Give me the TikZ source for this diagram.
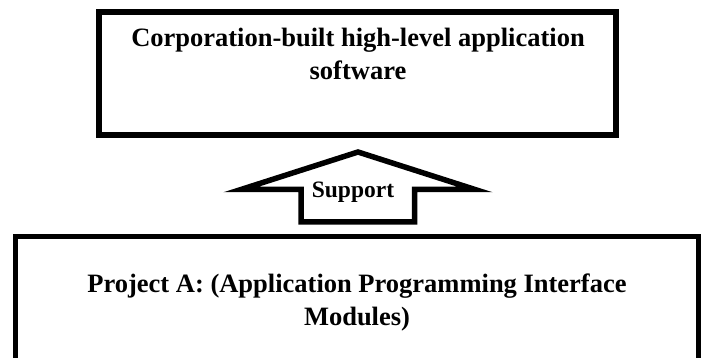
\documentclass[tikz,border=0pt]{standalone}
\usepackage{fontspec}
\setmainfont{Liberation Serif}
\begin{document}
\begin{tikzpicture}[x=1pt,y=-1pt,
  boxframe/.style={draw=black, line width=5.5pt, fill=white, inner sep=0pt, outer sep=0pt},
  boxtext/.style={font=\bfseries\fontsize{26.5}{33}\selectfont, align=center, inner sep=0pt, text=black},
  arrowline/.style={draw=black, line width=5.5pt, fill=white, line join=miter},
  suptext/.style={font=\bfseries\fontsize{23.5}{28}\selectfont, inner sep=0pt, text=black}]
\clip (0,0) rectangle (704,358);
\fill[white] (0,0) rectangle (704,358);
% top box
\node[boxframe, minimum width=517pt, minimum height=123pt] (top) at (357.5,73.5) {};
\node[boxtext, anchor=north] (toplbl) at (358,28) {Corporation-built high-level application\\software};
% support arrow
\coordinate (sL) at (301,189.5);
\coordinate (aL) at (241,189.5);
\coordinate (aP) at (358,152);
\coordinate (aR) at (475,189.5);
\coordinate (sR) at (414.5,189.5);
\coordinate (sRB) at (414.5,222);
\coordinate (sLB) at (301,222);
\draw[arrowline] (sL) -- (aL) -- (aP) -- (aR) -- (sR) -- (sRB) -- (sLB) -- cycle;
\node[suptext, anchor=base] (sup) at (353,198) {Support};
% bottom box
\node[boxframe, minimum width=683pt, minimum height=160pt, anchor=north] (bot) at (357,236.5) {};
\node[boxtext, anchor=north] (botlbl) at (357,273.6) {Project A: (Application Programming Interface\\Modules)};
\end{tikzpicture}
\end{document}
